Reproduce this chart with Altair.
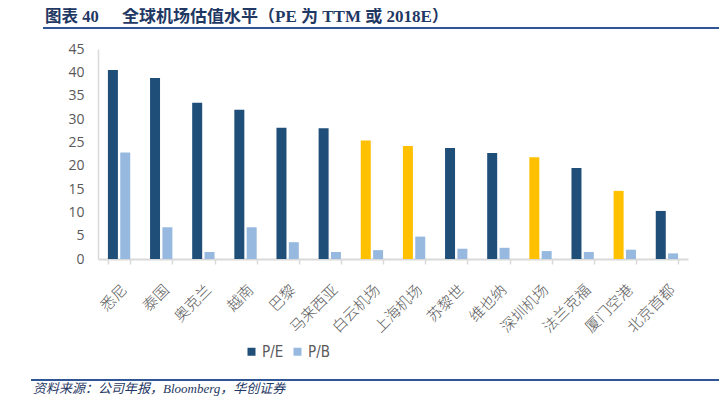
import altair as alt
import pandas as pd

AIRPORTS = ["悉尼", "泰国", "奥克兰", "越南", "巴黎", "马来西亚", "白云机场", "上海机场",
            "苏黎世", "维也纳", "深圳机场", "法兰克福", "厦门空港", "北京首都"]
PE = [40.5, 38.8, 33.5, 32.0, 28.1, 28.0, 25.4, 24.2, 23.8, 22.7, 21.8, 19.5, 14.6, 10.3]
PB = [22.8, 6.8, 1.5, 6.8, 3.6, 1.5, 1.9, 4.8, 2.2, 2.4, 1.7, 1.5, 2.0, 1.2]
IS_CN = [False, False, False, False, False, False, True, True, False, False, True, False, True, False]
Y_TICKS = [0, 5, 10, 15, 20, 25, 30, 35, 40, 45]
SERIES = ["P/E", "P/B"]

TITLE_NUM = "图表 40"
TITLE_TEXT = "全球机场估值水平（PE 为 TTM 或 2018E）"
SOURCE = "资料来源：公司年报，Bloomberg，华创证券"

DARK = "#1F4E79"
LIGHT = "#97B9E0"
YELLOW = "#FFC000"
NAVY = "#1F3864"
LINE = "#2F5597"

rows = []
for a, pe, pb, cn in zip(AIRPORTS, PE, PB, IS_CN):
    rows.append({"airport": a, "series": "P/E", "value": pe, "ckey": "CN" if cn else "P/E"})
    rows.append({"airport": a, "series": "P/B", "value": pb, "ckey": "P/B"})
df = pd.DataFrame(rows)

W, H = 590, 210

bars = alt.Chart(df).mark_bar().encode(
    x=alt.X("airport:N", sort=AIRPORTS,
            scale=alt.Scale(paddingInner=0.47, paddingOuter=0.235),
            axis=alt.Axis(title=None, labelAngle=-45, labelFontSize=15,
                          labelFont="Noto Sans CJK SC", labelFontWeight=300,
                          labelColor="#595959",
                          labelPadding=18, domainColor="#D9D9D9", domainWidth=2,
                          tickColor="#D9D9D9", tickSize=5, tickWidth=1.5,
                          tickBand="extent")),
    xOffset=alt.XOffset("series:N", sort=SERIES, scale=alt.Scale(paddingInner=0.19)),
    y=alt.Y("value:Q", scale=alt.Scale(domain=[0, 45], nice=False),
            axis=alt.Axis(title=None, values=Y_TICKS, grid=False, ticks=False,
                          labelFontSize=14, labelFont="Open Sans", labelColor="#595959",
                          labelPadding=14, domainColor="#D9D9D9", domainWidth=1.5)),
    color=alt.Color("ckey:N",
                    scale=alt.Scale(domain=["P/E", "P/B", "CN"], range=[DARK, LIGHT, YELLOW]),
                    legend=alt.Legend(title=None, values=SERIES, orient="none",
                                      direction="horizontal", legendX=146, legendY=295,
                                      symbolType="square", symbolSize=64,
                                      symbolStrokeWidth=0, labelFontSize=15,
                                      labelFont="Liberation Sans Narrow, DejaVu Sans Condensed, Roboto Condensed, sans-serif",
                                      labelColor="#595959", columnPadding=6,
                                      labelOffset=3)),
)

title_df = pd.DataFrame({"t": [TITLE_NUM]})
title_df2 = pd.DataFrame({"t": [TITLE_TEXT]})
src_df = pd.DataFrame({"t": [SOURCE]})

t1 = alt.Chart(title_df).mark_text(
    align="left", baseline="alphabetic", fontSize=16.5, fontWeight="bold",
    font="Liberation Serif, Noto Sans CJK SC", color=NAVY
).encode(x=alt.value(-53), y=alt.value(-27), text="t:N")
t2 = alt.Chart(title_df2).mark_text(
    align="left", baseline="alphabetic", fontSize=17, fontWeight="bold",
    font="Liberation Serif, Noto Sans CJK SC", color=NAVY
).encode(x=alt.value(24), y=alt.value(-27), text="t:N")

top_line = alt.Chart(title_df).mark_rule(color=LINE, strokeWidth=2).encode(
    x=alt.value(-55), x2=alt.value(621), y=alt.value(-21))
bot_line = alt.Chart(title_df).mark_rule(color=LINE, strokeWidth=2).encode(
    x=alt.value(-67), x2=alt.value(621), y=alt.value(331))

src = alt.Chart(src_df).mark_text(
    align="left", baseline="top", fontSize=13, fontStyle="italic",
    font="Liberation Serif, Noto Sans CJK SC", color=NAVY
).encode(x=alt.value(-65), y=alt.value(334), text="t:N")

chart = alt.layer(bars, t1, t2, top_line, bot_line, src).properties(
    width=W, height=H,
    padding={"left": 90, "top": 41, "right": 31, "bottom": 137},
    autosize=alt.AutoSizeParams(type="none"),
).configure_view(strokeWidth=0)

chart.save("out.html", embed_options={"renderer": "svg", "actions": False})
